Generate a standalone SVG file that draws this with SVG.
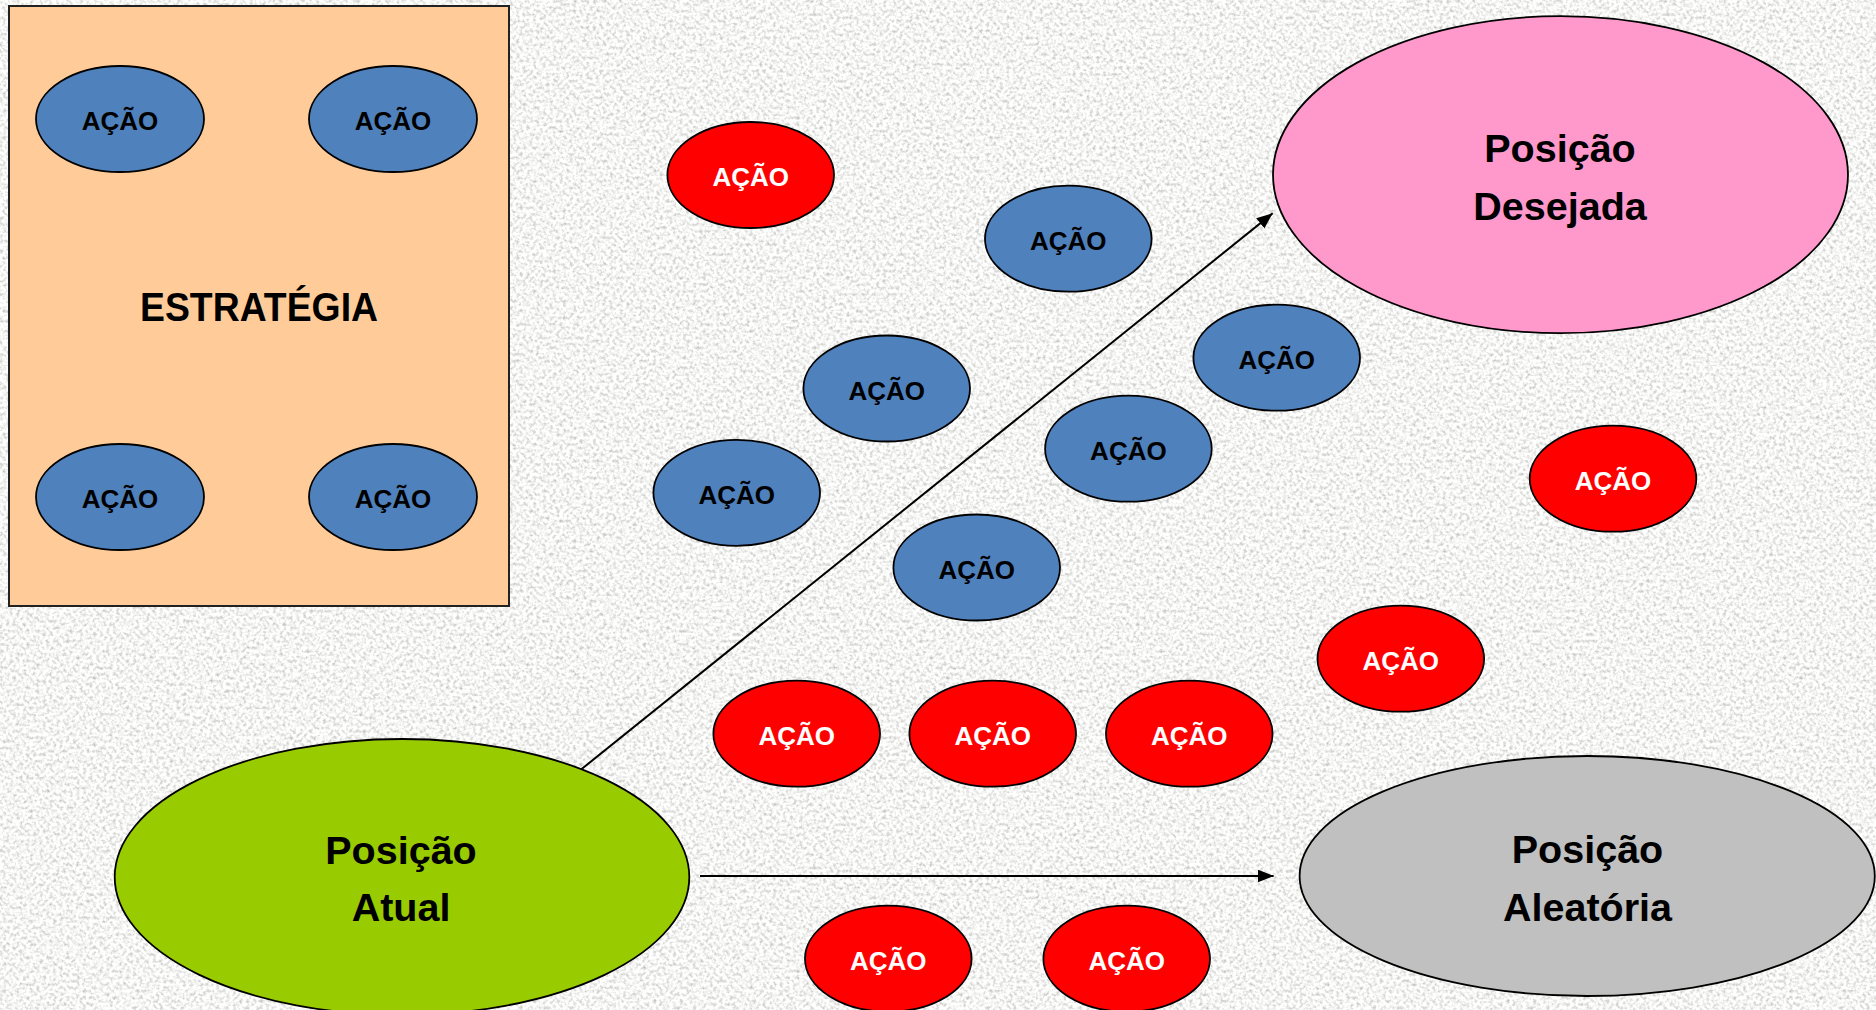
<svg xmlns="http://www.w3.org/2000/svg" width="1876" height="1010" viewBox="0 0 1876 1010">
  <style>
    .stroke { stroke: #000; stroke-width: 1.8; }
    .blue { fill: #4F81BD; }
    .red { fill: #FF0000; }
    .lbl { font-family: "Liberation Sans", Arial, sans-serif; font-weight: bold; text-anchor: middle; }
    .small { font-size: 26px; }
    .big { font-size: 39.5px; fill: #000; }
    .dark { fill: #000; }
    .light { fill: #fff; }
    .conn { stroke: #000; stroke-width: 2; fill: none; }
  </style>
  <defs>
    <filter id="granite" x="0" y="0" width="100%" height="100%">
      <feTurbulence type="fractalNoise" baseFrequency="0.3" numOctaves="2" seed="7" result="n"/>
      <feColorMatrix in="n" type="matrix" values="1.0 0 0 0 0.41  1.0 0 0 0 0.41  1.0 0 0 0 0.40  0 0 0 0 1"/>
    </filter>
    <marker id="arrow" markerUnits="userSpaceOnUse" markerWidth="18" markerHeight="14" refX="16" refY="6.5" orient="auto">
      <path d="M0,0 L16,6.5 L0,13 z" fill="#000"/>
    </marker>
  </defs>

  <rect id="background" x="0" y="0" width="1876" height="1010" fill="#E8E8E6" filter="url(#granite)"/>

  <g id="estrategia">
    <rect x="9" y="6" width="500" height="600" fill="#FFCC99" stroke="#222" stroke-width="2"/>
    <text class="lbl dark" x="259" y="321" font-size="40" textLength="238" lengthAdjust="spacingAndGlyphs">ESTRATÉGIA</text>
  </g>

  <g id="acao-e1"><ellipse class="blue stroke" cx="120" cy="119" rx="84" ry="53"/><text class="lbl small dark" x="120" y="130">AÇÃO</text></g>
  <g id="acao-e2"><ellipse class="blue stroke" cx="393" cy="119" rx="84" ry="53"/><text class="lbl small dark" x="393" y="130">AÇÃO</text></g>
  <g id="acao-e3"><ellipse class="blue stroke" cx="120" cy="497" rx="84" ry="53"/><text class="lbl small dark" x="120" y="508">AÇÃO</text></g>
  <g id="acao-e4"><ellipse class="blue stroke" cx="393" cy="497" rx="84" ry="53"/><text class="lbl small dark" x="393" y="508">AÇÃO</text></g>

  <g id="posicao-desejada">
    <ellipse cx="1560.5" cy="174.7" rx="287.5" ry="158.5" fill="#FF99CC" class="stroke"/>
    <text class="lbl big" x="1560" y="161.7">Posição</text>
    <text class="lbl big" x="1560" y="220">Desejada</text>
  </g>

  <g id="posicao-atual">
    <ellipse cx="402" cy="877" rx="287.3" ry="138" fill="#99CC00" class="stroke"/>
    <text class="lbl big" x="401" y="864.3">Posição</text>
    <text class="lbl big" x="401" y="920.7">Atual</text>
  </g>

  <g id="posicao-aleatoria">
    <ellipse cx="1587.2" cy="876" rx="287.6" ry="120" fill="#C0C0C0" class="stroke"/>
    <text class="lbl big" x="1587.5" y="863.3">Posição</text>
    <text class="lbl big" x="1587.5" y="920.7">Aleatória</text>
  </g>

  <g id="acao-r1"><ellipse class="red stroke" cx="750.7" cy="175" rx="83.3" ry="53"/><text class="lbl small light" x="750.7" y="186">AÇÃO</text></g>
  <g id="acao-b1"><ellipse class="blue stroke" cx="1068.3" cy="238.7" rx="83.3" ry="53"/><text class="lbl small dark" x="1068.3" y="249.7">AÇÃO</text></g>
  <g id="acao-b2"><ellipse class="blue stroke" cx="886.7" cy="388.5" rx="83.3" ry="53"/><text class="lbl small dark" x="886.7" y="399.5">AÇÃO</text></g>
  <g id="acao-b3"><ellipse class="blue stroke" cx="1276.7" cy="357.7" rx="83.3" ry="53"/><text class="lbl small dark" x="1276.7" y="368.7">AÇÃO</text></g>
  <g id="acao-b4"><ellipse class="blue stroke" cx="736.7" cy="492.8" rx="83.3" ry="53"/><text class="lbl small dark" x="736.7" y="503.8">AÇÃO</text></g>
  <g id="acao-b5"><ellipse class="blue stroke" cx="1128.4" cy="448.7" rx="83.3" ry="53"/><text class="lbl small dark" x="1128.4" y="459.7">AÇÃO</text></g>
  <g id="acao-b6"><ellipse class="blue stroke" cx="976.7" cy="567.5" rx="83.3" ry="53"/><text class="lbl small dark" x="976.7" y="578.5">AÇÃO</text></g>
  <g id="acao-r2"><ellipse class="red stroke" cx="1613" cy="478.7" rx="83.3" ry="53"/><text class="lbl small light" x="1613" y="489.7">AÇÃO</text></g>
  <g id="acao-r3"><ellipse class="red stroke" cx="1400.8" cy="658.7" rx="83.3" ry="53"/><text class="lbl small light" x="1400.8" y="669.7">AÇÃO</text></g>
  <g id="acao-r4"><ellipse class="red stroke" cx="796.7" cy="733.7" rx="83.3" ry="53"/><text class="lbl small light" x="796.7" y="744.7">AÇÃO</text></g>
  <g id="acao-r5"><ellipse class="red stroke" cx="992.7" cy="733.7" rx="83.3" ry="53"/><text class="lbl small light" x="992.7" y="744.7">AÇÃO</text></g>
  <g id="acao-r6"><ellipse class="red stroke" cx="1189.3" cy="733.7" rx="83.3" ry="53"/><text class="lbl small light" x="1189.3" y="744.7">AÇÃO</text></g>
  <g id="acao-r7"><ellipse class="red stroke" cx="888.3" cy="958.7" rx="83.3" ry="53"/><text class="lbl small light" x="888.3" y="969.7">AÇÃO</text></g>
  <g id="acao-r8"><ellipse class="red stroke" cx="1126.7" cy="958.7" rx="83.3" ry="53"/><text class="lbl small light" x="1126.7" y="969.7">AÇÃO</text></g>

  <g id="connectors">
    <line class="conn" x1="581.3" y1="769.3" x2="1272.7" y2="213.3" marker-end="url(#arrow)"/>
    <line class="conn" x1="700" y1="876" x2="1273.6" y2="876" marker-end="url(#arrow)"/>
  </g>
</svg>
